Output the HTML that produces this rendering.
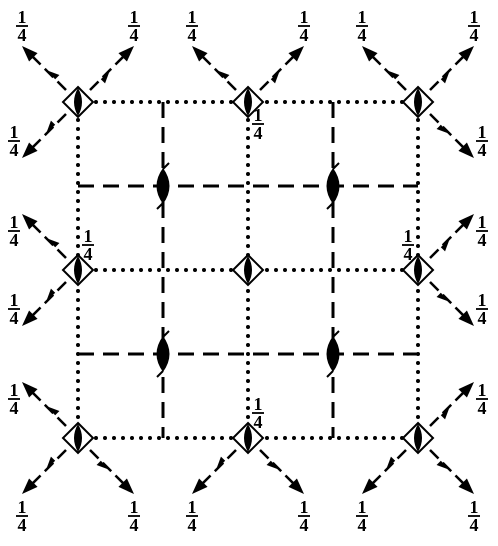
<!DOCTYPE html>
<html><head><meta charset="utf-8"><style>
html,body{margin:0;padding:0;background:#fff;}
svg{display:block;}
text{font-family:"Liberation Serif",serif;font-size:18px;font-weight:bold;fill:#000;}
</style></head><body>
<svg id="d" width="498" height="546" viewBox="0 0 498 546">
<g id="grid"></g><g id="marks"></g>
</svg>
<script>
const xs=[78,248,418], ys=[102,270,438];
const dashX=[163,333], dashY=[186,354];
const arrows=[
 [0,0,['NW','NE','SW']],[1,0,['NW','NE']],[2,0,['NW','NE','SE']],
 [0,1,['NW','SW']],[1,1,[]],[2,1,['NE','SE']],
 [0,2,['NW','SW','SE']],[1,2,['SW','SE']],[2,2,['NE','SW','SE']]
];
const nearLabels=[[1,0,'SE'],[0,1,'NE'],[2,1,'NW'],[1,2,'NE']];
const NS='http://www.w3.org/2000/svg';
const grid=document.getElementById('grid'), marks=document.getElementById('marks');
function mk(tag,attrs,parent){const e=document.createElementNS(NS,tag);for(const k in attrs)e.setAttribute(k,attrs[k]);parent.appendChild(e);return e;}
function line(x1,y1,x2,y2,dash,w,name){const l=mk('line',{x1,y1,x2,y2,stroke:'#000','stroke-width':w,'stroke-dasharray':dash,'stroke-linecap':dash.startsWith('0')?'round':'butt'},grid);

}
xs.forEach(x=>line(x,102,x,438,'0 9',4,'dotted-mirror-line'));
ys.forEach(y=>line(78,y,418,y,'0 9',4,'dotted-mirror-line'));
dashX.forEach(x=>line(x,102,x,438,'16 9',3,'dashed-glide-line'));
dashY.forEach(y=>line(78,y,418,y,'16 9',3,'dashed-glide-line'));
function frac(x,y,g){const t=mk('g',{},g);


mk('text',{x:x,y:y-3,'text-anchor':'middle'},t).textContent='1';
mk('line',{x1:x-6,y1:y,x2:x+6,y2:y,stroke:'#000','stroke-width':1.8},t);
mk('text',{x:x,y:y+15,'text-anchor':'middle'},t).textContent='4';}
dashX.forEach(x=>dashY.forEach(y=>{const g=mk('g',{},marks);


mk('path',{d:`M${x} ${y-18} Q${x+13} ${y} ${x} ${y+18} Q${x-13} ${y} ${x} ${y-18}Z`,fill:'#000'},g);
mk('path',{d:`M${x} ${y-17} l6 -6 M${x} ${y+17} l-6 6`,stroke:'#000','stroke-width':2,fill:'none'},g);}));
const dir={NW:[-1,-1],NE:[1,-1],SW:[-1,1],SE:[1,1]};
arrows.forEach(([i,j,ds])=>{const x=xs[i],y=ys[j];
 ds.forEach(d=>{const [dx,dy]=dir[d];const g=mk('g',{},marks);
  
  
  const ux=dx/Math.SQRT2,uy=dy/Math.SQRT2;
  mk('line',{x1:x+dx*12,y1:y+dy*12,x2:x+dx*48,y2:y+dy*48,stroke:'#000','stroke-width':2.5,'stroke-dasharray':'12 6'},g);
  const ex=x+dx*56,ey=y+dy*56;
  const px=-uy,py=ux;
  mk('polygon',{points:`${ex},${ey} ${ex-ux*16+px*6},${ey-uy*16+py*6} ${ex-ux*16-px*6},${ey-uy*16-py*6}`},g);
  const mx=x+dx*32,my=y+dy*32;
  mk('polygon',{points:`${mx},${my} ${mx-ux*13+px*6},${my-uy*13+py*6} ${mx-ux*13},${my-uy*13}`},g);
  const outerV=(j==0&&dy<0)||(j==2&&dy>0);
  let lx,ly;
  if(outerV){lx=ex;ly=ey+(dy<0?-20:22);}
  else{lx=ex+dx*8;ly=ey-dy*17;}
  frac(lx,ly,marks);
 });
 const g=mk('g',{},marks);
 
 
 mk('polygon',{points:`${x},${y-15} ${x+15},${y} ${x},${y+15} ${x-15},${y}`,fill:'#fff',stroke:'#000','stroke-width':2},g);
 mk('path',{d:`M${x} ${y-14} Q${x+8} ${y} ${x} ${y+14} Q${x-8} ${y} ${x} ${y-14}Z`,fill:'#000'},g);
});
nearLabels.forEach(([i,j,d])=>{const x=xs[i],y=ys[j];
 const ox={NE:10,SE:10,NW:-10}[d], oy=d=='SE'?22:-25;
 frac(x+ox,y+oy,marks);});
</script>
</body></html>
